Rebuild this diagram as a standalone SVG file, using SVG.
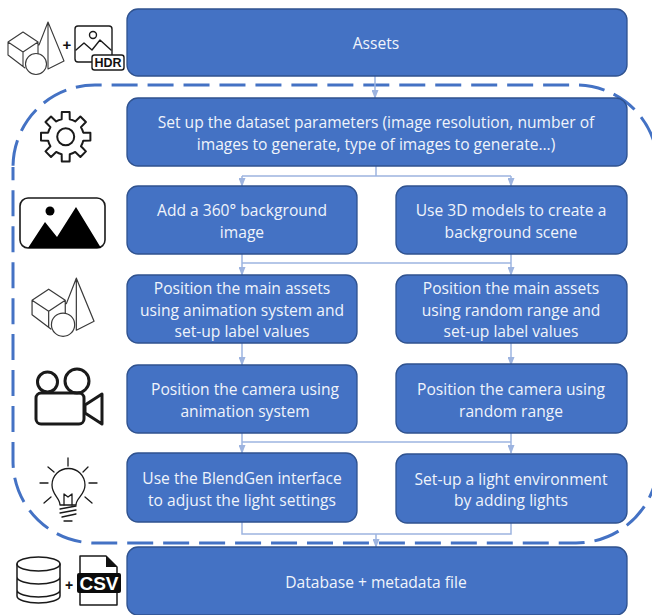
<svg xmlns="http://www.w3.org/2000/svg" width="652" height="615" viewBox="0 0 652 615">
<style>
.box{fill:#4472C4;stroke:#2F528F;stroke-width:1.3}
.t{font-family:"Open Sans","Liberation Sans",sans-serif;font-size:15.6px;fill:#F0F4FB;text-anchor:middle;transform:translateY(.6px)}
.c{fill:none;stroke:#9DB4E0;stroke-width:1.5}
.i{fill:none;stroke:#1a1a1a;stroke-linejoin:round;stroke-linecap:round}
.s{stroke:#3a3a3a}
.p{font-family:"Liberation Sans",sans-serif;font-weight:bold;fill:#111;text-anchor:middle}
</style>
<defs>
<marker id="a" markerWidth="9" markerHeight="7" refX="8" refY="3.5" orient="auto" markerUnits="userSpaceOnUse"><path d="M0 0L9 3.5L0 7Z" fill="#9DB4E0"/></marker>
<g id="shapes" class="i s" stroke-width="1.1">
<path d="M8 42L23 32L38 42L23 52ZM8 42V55L25 68M23 52V66M38 42V54M48 22L39 45M48 22L64 61L48 69ZM48 22V69"/>
<circle cx="36" cy="64" r="10.500" fill="#fff"/>
</g>
</defs>
<path id="frame" d="M13 167A82 82 0 0 1 95 85H576A82 82 0 0 1 658 167V461A82 82 0 0 1 576 543H95A82 82 0 0 1 13 461Z" fill="none" stroke="#4472C4" stroke-width="3" stroke-dasharray="26 9.96" stroke-dashoffset="34.6"/>
<g id="connectors">
<path class="c" d="M375 76V98" marker-end="url(#a)"/>
<path class="c" d="M376 166V176M242 176H511M242 176V186" marker-end="url(#a)"/>
<path class="c" d="M511 176V186" marker-end="url(#a)"/>
<path class="c" d="M242 254V275" marker-end="url(#a)"/>
<path class="c" d="M511 254V275" marker-end="url(#a)"/>
<path class="c" d="M242 263H511"/>
<path class="c" d="M242 343V365" marker-end="url(#a)"/>
<path class="c" d="M511 343V365" marker-end="url(#a)"/>
<path class="c" d="M242 433V453" marker-end="url(#a)"/>
<path class="c" d="M511 433V453" marker-end="url(#a)"/>
<path class="c" d="M242 442H511"/>
<path class="c" d="M242 522V534H511V522"/>
<path class="c" d="M376 534V547" marker-end="url(#a)"/>
</g>
<g id="n-assets"><rect class="box" x="127" y="9" width="500" height="67" rx="11"/><text class="t" x="376" y="48">Assets</text></g>
<g id="n-params"><rect class="box" x="127" y="98" width="500" height="68" rx="11"/><text class="t" x="376" y="127">Set up the dataset parameters (image resolution, number of</text><text class="t" x="376" y="149">images to generate, type of images to generate…)</text></g>
<g id="n-bg360"><rect class="box" x="127" y="186" width="230" height="68" rx="11"/><text class="t" x="242" y="215">Add a 360° background</text><text class="t" x="242" y="237">image</text></g>
<g id="n-bg3d"><rect class="box" x="396" y="186" width="231" height="68" rx="11"/><text class="t" x="511" y="215">Use 3D models to create a</text><text class="t" x="511" y="237">background scene</text></g>
<g id="n-assets-anim"><rect class="box" x="127" y="275" width="230" height="68" rx="11"/><text class="t" x="242" y="293">Position the main assets</text><text class="t" x="242" y="315">using animation system and</text><text class="t" x="242" y="336">set-up label values</text></g>
<g id="n-assets-rand"><rect class="box" x="396" y="275" width="231" height="68" rx="11"/><text class="t" x="511" y="293">Position the main assets</text><text class="t" x="511" y="315">using random range and</text><text class="t" x="511" y="336">set-up label values</text></g>
<g id="n-cam-anim"><rect class="box" x="127" y="365" width="230" height="68" rx="11"/><text class="t" x="245" y="394">Position the camera using</text><text class="t" x="245" y="416">animation system</text></g>
<g id="n-cam-rand"><rect class="box" x="396" y="364" width="231" height="69" rx="11"/><text class="t" x="511" y="394">Position the camera using</text><text class="t" x="511" y="416">random range</text></g>
<g id="n-light-ui"><rect class="box" x="127" y="453" width="230" height="69" rx="11"/><text class="t" x="242" y="483">Use the BlendGen interface</text><text class="t" x="242" y="505">to adjust the light settings</text></g>
<g id="n-light-add"><rect class="box" x="396" y="454" width="231" height="69" rx="11"/><text class="t" x="511" y="484">Set-up a light environment</text><text class="t" x="511" y="505">by adding lights</text></g>
<g id="n-db"><rect class="box" x="127" y="547" width="500" height="68" rx="11"/><text class="t" x="376" y="587">Database + metadata file</text></g>

<g id="icon-assets">
<use href="#shapes"/>
<text class="p" x="67" y="50" font-size="15">+</text>
<g class="i" stroke-width="1.4">
<rect x="75" y="26" width="37" height="36" rx="3"/>
<circle cx="93" cy="35" r="3.500"/>
<path d="M76 50L84 43L92 50L100 40L111 50"/>
<rect x="92" y="55" width="32" height="15" rx="2.500" fill="#fff"/>
</g>
<text x="108" y="67" font-family="Liberation Sans,sans-serif" font-weight="bold" font-size="12.500" fill="#111" text-anchor="middle">HDR</text>
</g>
<g id="icon-gear" transform="translate(65.700 136.700)" class="i" stroke-width="2">
<path d="M-4.050 -17.540L-3.910 -24.690H3.910L4.050 -17.540A18 18 0 0 1 9.540 -15.270L14.690 -20.220L20.220 -14.690L15.270 -9.540A18 18 0 0 1 17.540 -4.050L24.690 -3.910V3.910L17.540 4.050A18 18 0 0 1 15.270 9.540L20.220 14.690L14.690 20.220L9.540 15.270A18 18 0 0 1 4.050 17.540L3.910 24.690H-3.910L-4.050 17.540A18 18 0 0 1 -9.540 15.270L-14.690 20.220L-20.220 14.690L-15.270 9.540A18 18 0 0 1 -17.540 4.050L-24.690 3.910V-3.910L-17.540 -4.050A18 18 0 0 1 -15.270 -9.540L-20.220 -14.690L-14.690 -20.220L-9.540 -15.270A18 18 0 0 1 -4.050 -17.540Z"/>
<circle r="8.500"/>
</g>
<g id="icon-image">
<rect class="i" x="20" y="198" width="85" height="50" rx="8" stroke-width="1.6"/>
<path d="M28 248L45 222L57 237L76 207L101 248Z" fill="#000"/>
<circle cx="50" cy="211" r="4.500" fill="#000"/>
</g>
<g id="icon-shapes"><use href="#shapes" transform="translate(23.200 253.800) scale(1.107)"/></g>
<g id="icon-camera" class="i" stroke-width="3">
<rect x="36" y="393" width="48" height="31" rx="5"/>
<circle cx="47.500" cy="382" r="10"/>
<circle cx="77" cy="381" r="12"/>
<path d="M85 405L102 394V424L85 413Z"/>
</g>
<g id="icon-light" class="i" stroke-width="1.3">
<path d="M60 505C60 498 52 495 52 485A16.500 16.500 0 0 1 85 485C85 495 76 498 76 505Z"/>
<path d="M64 505V494L68 497L72 494V505M60 509L76 506M60 513L76 510M62 517L76 514M64 521H72"/>
<path d="M68 458V466M48 467L54 472M88 467L83 472M40 483H48M89 483H97M44 503L51 497M92 503L85 497"/>
</g>
<g id="icon-db">
<g class="i" stroke-width="1.5">
<ellipse cx="38.500" cy="564" rx="21.500" ry="7"/>
<path d="M17 564V596C17 600 27 603 38.500 603S60 600 60 596V564M17 577C17 581 27 584 38.500 584S60 581 60 577M17 590C17 594 27 597 38.500 597S60 594 60 590"/>
</g>
<text class="p" x="69" y="590" font-size="14">+</text>
<path class="i" stroke-width="1.5" d="M80 573V556H106L117 567V573M80 593V605H117V593"/>
<path d="M106 556V567H117Z" fill="#111"/>
<rect x="77" y="573" width="44" height="20" rx="2" fill="#0b0b0b"/>
<text x="99" y="590" font-family="Liberation Sans,sans-serif" font-weight="bold" font-size="19" fill="#fff" text-anchor="middle">CSV</text>
</g>
</svg>
